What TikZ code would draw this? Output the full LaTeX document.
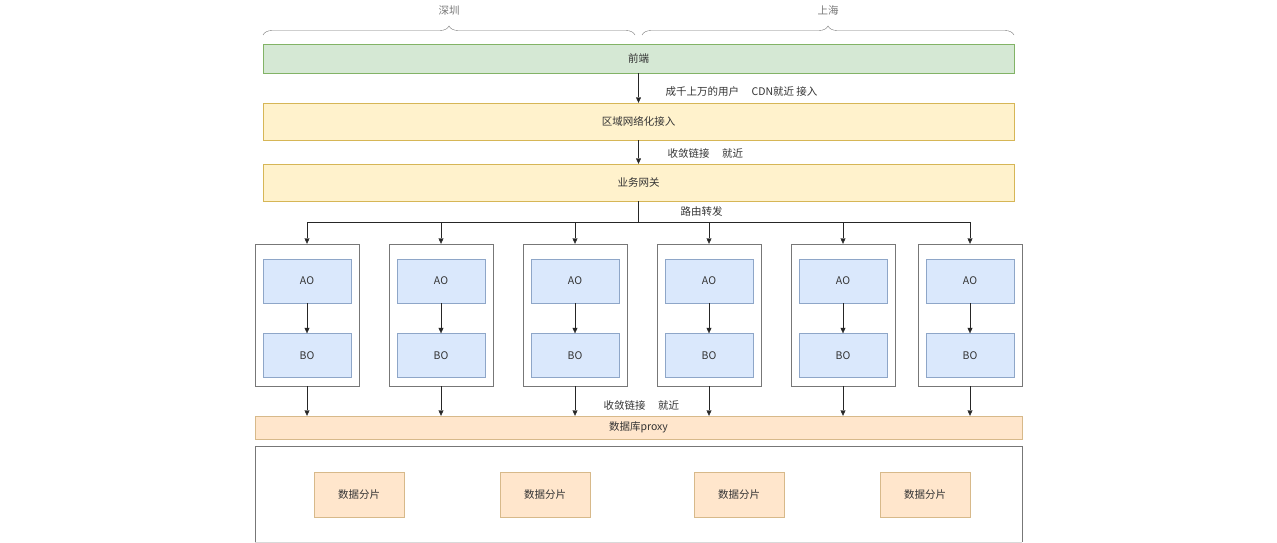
\documentclass[tikz,border=0pt]{standalone}
\usepackage{fontspec}
\setmainfont{Noto Sans CJK SC}
\usetikzlibrary{arrows.meta,decorations.pathreplacing}
\definecolor{frontfill}{HTML}{D5E8D4}
\definecolor{frontline}{HTML}{82B366}
\definecolor{yelfill}{HTML}{FFF2CC}
\definecolor{yelline}{HTML}{D6B656}
\definecolor{orgfill}{HTML}{FFE6CC}
\definecolor{orgline}{HTML}{D7B98A}
\definecolor{bluefill}{HTML}{DAE8FC}
\definecolor{blueline}{HTML}{8EA6C8}
\definecolor{boxline}{HTML}{777777}
\begin{document}
\begin{tikzpicture}[x=1pt,y=-1pt,
  font=\fontsize{10.5}{12}\selectfont, text=black!80,
  bar/.style={draw=#1line, fill=#1fill, minimum width=751, inner sep=0},
  group/.style={draw=boxline, minimum width=104, minimum height=142, inner sep=0},
  obox/.style={draw=blueline, fill=bluefill, minimum width=88, minimum height=44, inner sep=0},
  shard/.style={draw=orgline, fill=orgfill, minimum width=90, minimum height=45, inner sep=0},
  arr/.style={-{Triangle[length=5.5pt,width=5pt]}, black!85},
  brc/.style={decorate, decoration={brace, amplitude=9pt}, boxline}]
\useasboundingbox (0,0) rectangle (1277,543);
%%%% Regions on top:
\draw[brc] (263,35) -- (635,35) node[midway, above=16pt] (sz) {深圳};
\draw[brc] (642,35) -- (1014,35) node[midway, above=16pt] (sh) {上海};
%%%% Access layers:
\node[bar=front, minimum height=29] (front) at (638.5,58.5) {前端};
\node[bar=yel, minimum height=37] (region) at (638.5,121.5) {区域网络化接入};
\node[bar=yel, minimum height=37] (gateway) at (638.5,182.5) {业务网关};
\draw[arr] (front) -- (region);
\draw[arr] (region) -- (gateway);
\node[anchor=west] (lbla) at (662,92) {成千上万的用户\hspace{1.2em}CDN就近 接入};
\node[anchor=west] (lblb) at (664,153) {收敛链接\hspace{1.2em}就近};
%%%% Routing to the service groups:
\coordinate (split) at (638.5,222);
\draw[black!85] (gateway) -- (split);
\node[anchor=west] (lblc) at (677,212) {路由转发};
\node[draw=orgline, fill=orgfill, minimum width=767, minimum height=23, inner sep=0] (proxy) at (638.5,427.5) {数据库proxy};
\foreach \i/\x in {1/307,2/441,3/575,4/709,5/843,6/970}{
  \node[group] (g\i) at (\x,315) {};
  \node[obox] (ao\i) at (\x,281) {AO};
  \node[obox] (bo\i) at (\x,355.5) {BO};
  \draw[arr] (split) -| (g\i.north);
  \draw[arr] (ao\i) -- (bo\i);
  \draw[arr] (g\i.south) -- (g\i.south |- proxy.north);
}
\node[anchor=west] (lbld) at (600,405) {收敛链接\hspace{1.2em}就近};
%%%% Data shards:
\draw[boxline] (255,542) -- (255,446) -- (1022,446) -- (1022,542);
\draw[black!15] (255,542) -- (1022,542);
\foreach \i/\x in {1/359,2/545,3/739,4/925}{
  \node[shard] (s\i) at (\x,494.5) {数据分片};
}
\end{tikzpicture}
\end{document}
